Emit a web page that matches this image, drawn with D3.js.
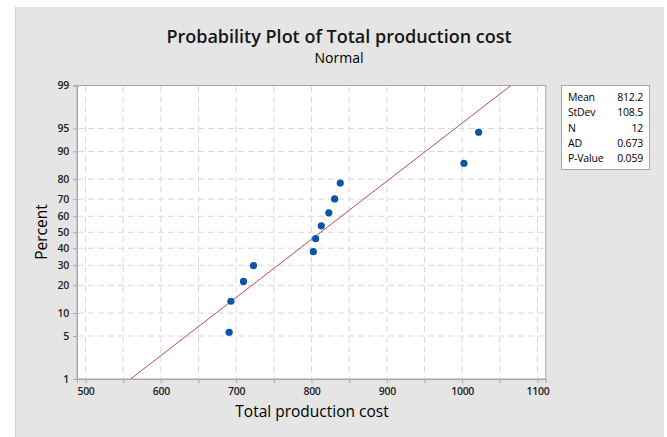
<!DOCTYPE html>
<html><head><meta charset="utf-8">
<script src="https://cdn.jsdelivr.net/npm/d3@7/dist/d3.min.js"></script>
<style>
html,body{margin:0;padding:0;background:#fff;}
svg{display:block;font-family:"Open Sans","Noto Sans",sans-serif;}
</style></head>
<body>
<svg id="c" width="667" height="437"></svg>
<script>
// Data
const costs = [690.7, 693.0, 709.7, 723.0, 802.4, 805.5, 813.0, 823.0, 830.7, 838.2, 1002.4, 1021.9];
const xTicks = [500, 600, 700, 800, 900, 1000, 1100];
const xGrid = [500, 550, 600, 650, 700, 750, 800, 850, 900, 950, 1000, 1050, 1100];
const yTicks = [1, 5, 10, 20, 30, 40, 50, 60, 70, 80, 90, 95, 99];
const statLabels = ["Mean", "StDev", "N", "AD", "P-Value"];
const statValues = ["812.2", "108.5", "12", "0.673", "0.059"];
const fitMean = 812.2, fitSD = 108.5;

// Inverse normal CDF (Acklam)
function qnorm(p){
  const a=[-3.969683028665376e+01,2.209460984245205e+02,-2.759285104469687e+02,1.383577518672690e+02,-3.066479806614716e+01,2.506628277459239e+00];
  const b=[-5.447609879822406e+01,1.615858368580409e+02,-1.556989798598866e+02,6.680131188771972e+01,-1.328068155288572e+01];
  const c=[-7.784894002430293e-03,-3.223964580411365e-01,-2.400758277161838e+00,-2.549732539343734e+00,4.374664141464968e+00,2.938163982698783e+00];
  const d=[7.784695709041462e-03,3.224671290700398e-01,2.445134137142996e+00,3.754408661907416e+00];
  const pl=0.02425, ph=1-pl; let q,r;
  if(p<pl){q=Math.sqrt(-2*Math.log(p));return (((((c[0]*q+c[1])*q+c[2])*q+c[3])*q+c[4])*q+c[5])/((((d[0]*q+d[1])*q+d[2])*q+d[3])*q+1);}
  if(p<=ph){q=p-0.5;r=q*q;return (((((a[0]*r+a[1])*r+a[2])*r+a[3])*r+a[4])*r+a[5])*q/(((((b[0]*r+b[1])*r+b[2])*r+b[3])*r+b[4])*r+1);}
  q=Math.sqrt(-2*Math.log(1-p));return -(((((c[0]*q+c[1])*q+c[2])*q+c[3])*q+c[4])*q+c[5])/((((d[0]*q+d[1])*q+d[2])*q+d[3])*q+1);
}

const svg = d3.select("#c");
// background panel
svg.append("rect").attr("x",15).attr("y",7).attr("width",649).attr("height",430).attr("fill","#e5e5e5");
svg.append("line").attr("x1",15.5).attr("x2",15.5).attr("y1",7).attr("y2",437).attr("stroke","#d0d0d0");

const L=77, R=545.7, T=85.5, B=379;
const x = d3.scaleLinear().domain([488.7, 1110.9]).range([L, R]);
const zTop = qnorm(0.99), zBot = qnorm(0.01);
const y = d3.scaleLinear().domain([zBot, zTop]).range([B, T]);
const yp = p => y(qnorm(p/100));

svg.append("rect").attr("x",L).attr("y",T).attr("width",R-L).attr("height",B-T).attr("fill","#fff").attr("stroke","#a8a8a8").attr("stroke-width",1);

const grid = svg.append("g");
grid.selectAll(".vg").data(xGrid).join("line")
  .attr("x1",d=>x(d)).attr("x2",d=>x(d)).attr("y1",T+1).attr("y2",B-1)
  .attr("stroke","#d8d8d8").attr("stroke-dasharray","6,4");
grid.selectAll(".hg").data(yTicks.filter(d=>d>1&&d<99)).join("line")
  .attr("x1",L+1).attr("x2",R-1).attr("y1",d=>yp(d)).attr("y2",d=>yp(d))
  .attr("stroke","#d8d8d8").attr("stroke-dasharray","6,4");

// fitted line
const lineData = [0.01, 0.99].map(p => ({x: fitMean + fitSD*qnorm(p), z: qnorm(p)}));
svg.append("line")
  .attr("x1",x(lineData[0].x)).attr("y1",y(lineData[0].z))
  .attr("x2",x(lineData[1].x)).attr("y2",y(lineData[1].z))
  .attr("stroke","#bd4a4d").attr("stroke-width",1);

// points
const n = costs.length;
const pts = costs.slice().sort((a,b)=>a-b).map((v,i)=>({v, p:(i+1-0.3)/(n+0.4)}));
svg.selectAll(".pt").data(pts).join("circle")
  .attr("cx",d=>x(d.v)).attr("cy",d=>y(qnorm(d.p))).attr("r",3.6).attr("fill","#0a55a5");

// axes
const xAxis = d3.axisBottom(x).tickValues(xGrid).tickSize(4).tickFormat(d=>xTicks.includes(d)?d:"");
const gx = svg.append("g").attr("transform",`translate(0,${B})`).call(xAxis);
const yAxis = d3.axisLeft(y).tickValues(yTicks.map(p=>qnorm(p/100))).tickSize(4).tickFormat((d,i)=>yTicks[i]);
const gy = svg.append("g").attr("transform",`translate(${L},0)`).call(yAxis);
[gx,gy].forEach(g=>{
  g.select(".domain").attr("stroke","#a8a8a8");
  g.selectAll(".tick line").attr("stroke","#a8a8a8");
  g.selectAll("text").attr("fill","#1e1e1e").attr("font-size",10.5).attr("font-weight",600).attr("letter-spacing","-0.3").attr("font-family","Open Sans, sans-serif");
});
gx.selectAll("text").attr("dy","0.9em");
gy.selectAll("text").attr("dx","-1");

// titles
svg.append("text").attr("x",339).attr("y",43).attr("text-anchor","middle").attr("font-size",18).attr("font-weight",600).attr("fill","#151515").text("Probability Plot of Total production cost");
svg.append("text").attr("x",339).attr("y",63).attr("text-anchor","middle").attr("font-size",14).attr("fill","#000").text("Normal");
svg.append("text").attr("x",312).attr("y",417).attr("text-anchor","middle").attr("font-size",15.5).attr("fill","#000").text("Total production cost");
svg.append("text").attr("transform","translate(47,232) rotate(-90)").attr("text-anchor","middle").attr("font-size",15.5).attr("fill","#000").text("Percent");

// stats box
const box = svg.append("g");
box.append("rect").attr("x",561.5).attr("y",85.5).attr("width",88).attr("height",84).attr("fill","#fff").attr("stroke","#a8a8a8");
box.selectAll(".sl").data(statLabels).join("text")
  .attr("x",568).attr("y",(d,i)=>101+i*15.3).attr("font-size",10.5).attr("letter-spacing","-0.2").attr("fill","#000").text(d=>d);
box.selectAll(".sv").data(statValues).join("text")
  .attr("x",643).attr("y",(d,i)=>101+i*15.3).attr("text-anchor","end").attr("font-size",10.5).attr("letter-spacing","-0.2").attr("fill","#000").text(d=>d);
</script>
</body></html>
